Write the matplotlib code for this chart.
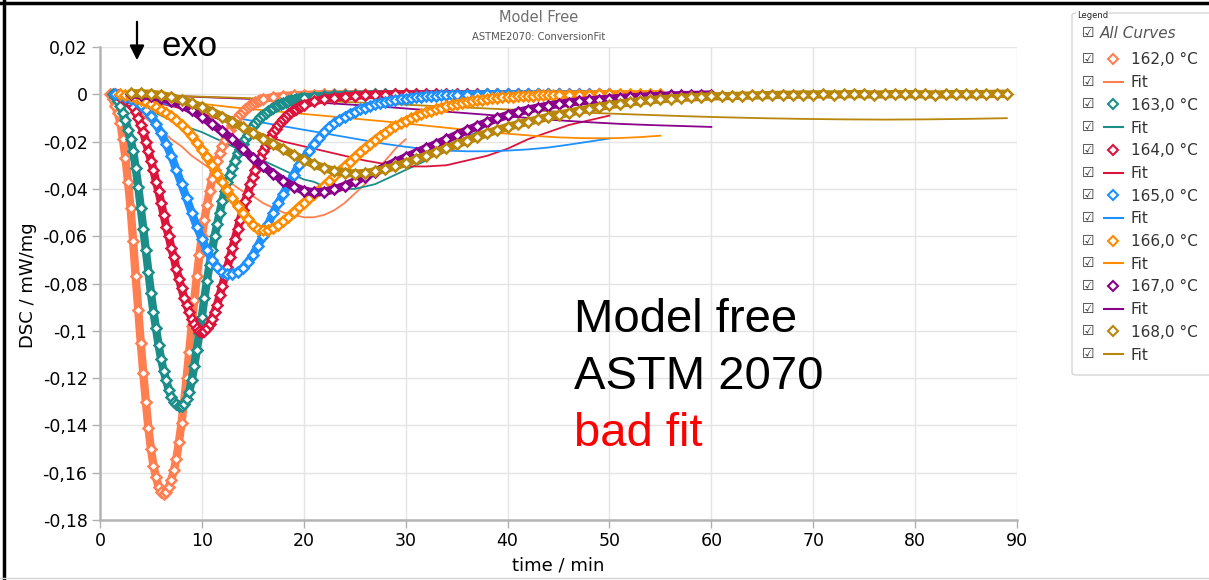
import numpy as np
import matplotlib
matplotlib.use('Agg')
import matplotlib.pyplot as plt
from matplotlib.ticker import FuncFormatter
from matplotlib.lines import Line2D
from matplotlib.patches import FancyBboxPatch

# ---- isothermal DSC runs (time in min, DSC in mW/mg) ----
labels = ['162,0 °C', '163,0 °C', '164,0 °C', '165,0 °C', '166,0 °C', '167,0 °C', '168,0 °C']
colors = ['#FF7F50', '#1B8E8A', '#DC143C', '#1E90FF', '#FF8C00', '#8B008B', '#B8860B']

t162 = np.concatenate([np.arange(1.0, 16.01, 0.25), np.arange(17, 31)])
dsc162 = [0.0, -0.002, -0.005, -0.008, -0.012, -0.019, -0.027, -0.037,
          -0.048, -0.062, -0.077, -0.091, -0.105, -0.118, -0.130, -0.141,
          -0.150, -0.157, -0.162, -0.166, -0.168, -0.169, -0.168, -0.166,
          -0.163, -0.159, -0.154, -0.147, -0.139, -0.130, -0.120, -0.109,
          -0.098, -0.087, -0.077, -0.068, -0.060, -0.053, -0.047, -0.041,
          -0.036, -0.032, -0.028, -0.025, -0.022, -0.0195, -0.017, -0.015,
          -0.013, -0.0113, -0.0098, -0.0085, -0.0074, -0.0064, -0.0055, -0.0047,
          -0.004, -0.0034, -0.0029, -0.0024, -0.002,
          -0.0012, -0.0007, -0.0004, -0.0002, -0.0001, 0.0, 0.0, 0.0,
          0.0, 0.0, 0.0, 0.0, 0.0, 0.0]
tfit162 = np.arange(1, 31)
fit162 = [0.0, -0.002, -0.005, -0.008, -0.012, -0.015, -0.019, -0.022, -0.026, -0.029,
          -0.032, -0.035, -0.038, -0.041, -0.043, -0.046, -0.048, -0.050, -0.051, -0.052,
          -0.052, -0.051, -0.049, -0.046, -0.042, -0.038, -0.033, -0.028, -0.023, -0.019]

t163 = np.concatenate([np.arange(1.25, 20.01, 0.25), np.arange(21, 46)])
dsc163 = [0.0, -0.001, -0.003, -0.005, -0.008, -0.011, -0.015, -0.019,
          -0.024, -0.031, -0.039, -0.048, -0.057, -0.066, -0.075, -0.084,
          -0.092, -0.099, -0.106, -0.112, -0.117, -0.121, -0.125, -0.128,
          -0.130, -0.131, -0.132,
          -0.132, -0.131, -0.129, -0.126, -0.121, -0.115, -0.108, -0.101,
          -0.094, -0.086, -0.079, -0.072, -0.066, -0.060, -0.055, -0.050,
          -0.045, -0.041, -0.037, -0.034, -0.031, -0.028, -0.025, -0.023,
          -0.021, -0.019, -0.017, -0.015, -0.0135, -0.012, -0.011, -0.0098,
          -0.0088, -0.0079, -0.0071, -0.0064, -0.0057, -0.0051, -0.0046, -0.0041,
          -0.0037, -0.0033, -0.0029, -0.0026, -0.0023, -0.0020, -0.0018, -0.0016,
          -0.0014,
          -0.001, -0.0007, -0.0005, -0.0003, -0.0002, -0.0001, 0.0, 0.0,
          0.0, 0.0, 0.0, 0.0, 0.0, 0.0, 0.0, 0.0,
          0.0, 0.0, 0.0, 0.0, 0.0, 0.0, 0.0, 0.0, 0.0]
tfit163 = np.arange(1, 46)
fit163 = [0.0, -0.001, -0.003, -0.005, -0.007, -0.009, -0.011, -0.013, -0.0145, -0.016,
          -0.018, -0.020, -0.022, -0.024, -0.026, -0.028, -0.030, -0.032, -0.034, -0.036,
          -0.037, -0.039, -0.040, -0.040, -0.040, -0.039, -0.038, -0.036, -0.034, -0.032,
          -0.030, -0.028, -0.025, -0.023, -0.020, -0.018, -0.016, -0.013, -0.011, -0.009,
          -0.0075, -0.006, -0.0045, -0.0035, -0.0025]

t164 = np.concatenate([np.arange(1.5, 20.01, 0.25), np.arange(21, 51)])
dsc164 = [0.0, -0.0003, -0.0008, -0.0014, -0.0021, -0.003, -0.004, -0.0055,
          -0.0075, -0.010, -0.013, -0.016, -0.020, -0.024, -0.028, -0.032,
          -0.037, -0.041, -0.046, -0.051, -0.056, -0.060, -0.065, -0.069,
          -0.074, -0.078, -0.082, -0.086, -0.089, -0.092, -0.095, -0.097,
          -0.099, -0.100, -0.1005,
          -0.100, -0.099, -0.097, -0.095, -0.092, -0.089, -0.085, -0.081,
          -0.077, -0.073, -0.069, -0.065, -0.061, -0.057, -0.053, -0.049,
          -0.045, -0.042, -0.038, -0.035, -0.032, -0.029, -0.027, -0.024,
          -0.022, -0.020, -0.018, -0.016, -0.0145, -0.013, -0.0118, -0.0106,
          -0.0095, -0.0085, -0.0076, -0.0068, -0.0061, -0.0055, -0.0049, -0.0044,
          -0.003, -0.002, -0.0014, -0.001, -0.0006, -0.0004, -0.0002, -0.0001,
          0.0, 0.0, 0.0, 0.0, 0.0, 0.0, 0.0, 0.0,
          0.0, 0.0, 0.0, 0.0, 0.0, 0.0, 0.0, 0.0,
          0.0, 0.0, 0.0, 0.0, 0.0, 0.0]
tfit164 = np.arange(2, 51, 2)
fit164 = [-0.0005, -0.002, -0.004, -0.006, -0.008, -0.011, -0.014, -0.017, -0.020, -0.022,
          -0.024, -0.026, -0.028, -0.0295, -0.0305, -0.0305, -0.030, -0.028, -0.026, -0.023,
          -0.019, -0.016, -0.013, -0.011, -0.009]

t165 = np.concatenate([np.arange(1.5, 35.01, 0.5), np.arange(36, 51)])
dsc165 = [0.0, -0.0005, -0.001, -0.002, -0.003, -0.0045, -0.0065, -0.009,
          -0.0125, -0.0165, -0.021, -0.026, -0.032, -0.038, -0.044, -0.050,
          -0.056, -0.061, -0.066, -0.070, -0.073, -0.075, -0.076, -0.0758,
          -0.075, -0.0735, -0.071, -0.068, -0.064, -0.060, -0.055, -0.050,
          -0.046, -0.042, -0.038, -0.034, -0.030, -0.027, -0.024, -0.021,
          -0.0185, -0.016, -0.014, -0.0123, -0.0108, -0.0095, -0.0083, -0.0073,
          -0.0064, -0.0056, -0.0049, -0.0043, -0.0037, -0.0032, -0.0028, -0.0024,
          -0.0021, -0.0018, -0.0015, -0.0013, -0.0011, -0.0009, -0.0008, -0.0006,
          -0.0005, -0.0004, -0.0003, -0.0002,
          -0.0001, -0.0001, 0.0, 0.0, 0.0, 0.0, 0.0, 0.0,
          0.0, 0.0, 0.0, 0.0, 0.0, 0.0, 0.0]
tfit165 = np.arange(2, 51, 2)
fit165 = [-0.0005, -0.002, -0.0037, -0.0054, -0.0071, -0.0088, -0.0105, -0.012, -0.0135, -0.015,
          -0.0165, -0.018, -0.0195, -0.021, -0.0222, -0.0232, -0.0238, -0.0241, -0.0241, -0.0238,
          -0.0233, -0.0225, -0.0213, -0.020, -0.0187]

t166 = np.concatenate([np.arange(2.0, 45.01, 0.5), np.arange(46, 56)])
dsc166 = [0.0, -0.0003, -0.0008, -0.0015, -0.0023, -0.0032, -0.0042, -0.0053,
          -0.0065, -0.0078, -0.0093, -0.011, -0.013, -0.0152, -0.0177, -0.0205,
          -0.0235, -0.0267, -0.030, -0.0335, -0.037, -0.0405, -0.044, -0.0472,
          -0.050, -0.0528, -0.0552, -0.0568, -0.0575, -0.0573, -0.0565, -0.0552,
          -0.0535, -0.0517, -0.0497, -0.0477, -0.0458, -0.044, -0.0422, -0.0404,
          -0.0386, -0.0367, -0.0347, -0.0326, -0.0305, -0.0285, -0.0265, -0.0246,
          -0.0228, -0.021, -0.0193, -0.0177, -0.0162, -0.0148, -0.0135, -0.0123,
          -0.0112, -0.0102, -0.0093, -0.0084, -0.0076, -0.0069, -0.0062, -0.0056,
          -0.005, -0.0045, -0.004, -0.0036, -0.0032, -0.0028, -0.0025, -0.0022,
          -0.0019, -0.0017, -0.0015, -0.0013, -0.0011, -0.001, -0.0009, -0.0008,
          -0.0007, -0.0006, -0.0005, -0.0004, -0.0003, -0.0003, -0.0002,
          -0.0002, -0.0001, -0.0001, 0.0, 0.0, 0.0, 0.0, 0.0, 0.0, 0.0]
tfit166 = np.arange(1, 56, 2)
fit166 = [0.0, -0.0005, -0.0015, -0.0025, -0.0035, -0.0045, -0.0055, -0.0063, -0.0071, -0.0079,
          -0.0087, -0.0095, -0.0103, -0.0111, -0.0119, -0.0128, -0.0137, -0.0146, -0.0155, -0.0163,
          -0.017, -0.0177, -0.0182, -0.0185, -0.0186, -0.0185, -0.0181, -0.0175]

t167 = np.arange(3, 61)
dsc167 = [0.0, -0.0003, -0.0008, -0.0015, -0.0028, -0.0045, -0.0068, -0.0095,
          -0.0125, -0.0157, -0.019, -0.023, -0.027, -0.0305, -0.0335, -0.0365,
          -0.039, -0.0407, -0.0415, -0.0412, -0.0402, -0.0387, -0.0368, -0.0348,
          -0.0327, -0.0306, -0.0286, -0.0266, -0.0247, -0.0228, -0.021, -0.0191,
          -0.0172, -0.0153, -0.0135, -0.0118, -0.0102, -0.0088, -0.0075, -0.0065,
          -0.0056, -0.0048, -0.0041, -0.0035, -0.003, -0.0026, -0.0022, -0.0019,
          -0.0016, -0.0013, -0.0011, -0.0009, -0.0007, -0.0005, -0.0004, -0.0003,
          -0.0002, -0.0001]
tfit167 = np.arange(3, 61, 3)
fit167 = [0.0, -0.0005, -0.001, -0.0015, -0.002, -0.0027, -0.0034, -0.0042, -0.005, -0.006,
          -0.007, -0.008, -0.009, -0.010, -0.011, -0.0118, -0.0125, -0.013, -0.0134, -0.0138]

t168 = np.arange(3, 90)
dsc168 = [0.0004, 0.0004, 0.0002, -0.0003, -0.0012, -0.0024, -0.0038, -0.0054,
          -0.0073, -0.0094, -0.0116, -0.0139, -0.0163, -0.0187, -0.021, -0.0232,
          -0.0256, -0.0277, -0.0296, -0.0312, -0.0324, -0.0332, -0.0335, -0.0333,
          -0.0326, -0.0316, -0.0304, -0.029, -0.0275, -0.026, -0.0244, -0.0228,
          -0.0212, -0.0196, -0.018, -0.0165, -0.0151, -0.0138, -0.0127, -0.0116,
          -0.0106, -0.0096, -0.0087, -0.0078, -0.0069, -0.0061, -0.0053, -0.0046,
          -0.004, -0.0034, -0.0029, -0.0025, -0.0021, -0.0018, -0.0015, -0.0013,
          -0.0011, -0.0009, -0.0008, -0.0007, -0.0006, -0.0005, -0.0004, -0.0003,
          -0.0002, -0.0002, -0.0001, -0.0001, 0.0, -0.0001, 0.0, 0.0001,
          0.0, -0.0001, 0.0, 0.0001, 0.0001, 0.0, 0.0, -0.0001,
          0.0, 0.0001, 0.0, 0.0, 0.0001, 0.0002, 0.0002]
tfit168 = np.arange(1, 90, 4)
fit168 = [0.0, -0.0004, -0.0009, -0.0014, -0.002, -0.0027, -0.0034, -0.0042, -0.005, -0.0058,
          -0.0066, -0.0073, -0.008, -0.0086, -0.0092, -0.0097, -0.0101, -0.0104, -0.0106, -0.0107,
          -0.0106, -0.0104, -0.0101]

runs = [(t162, dsc162, tfit162, fit162), (t163, dsc163, tfit163, fit163),
        (t164, dsc164, tfit164, fit164), (t165, dsc165, tfit165, fit165),
        (t166, dsc166, tfit166, fit166), (t167, dsc167, tfit167, fit167),
        (t168, dsc168, tfit168, fit168)]

y_ticks = [-0.18, -0.16, -0.14, -0.12, -0.1, -0.08, -0.06, -0.04, -0.02, 0.0, 0.02]
x_ticks = [0, 10, 20, 30, 40, 50, 60, 70, 80, 90]

W, H = 1209, 580


def fx(x):
    return x / W


def fy(y):
    return 1 - y / H


fig = plt.figure(figsize=(W / 100, H / 100), dpi=100)
ax = fig.add_axes([fx(100), fy(520), (1017 - 100) / W, (520 - 47) / H])

# fits underneath, measured points on top as a thick band with white dots
for (t, d, tf, f), c in zip(runs, colors):
    ax.plot(tf, f, '-', color=c, lw=1.3, zorder=2)
for (t, d, tf, f), c in zip(runs, colors):
    ax.plot(t, d, '-', color=c, lw=6, marker='D', ms=4.6, mfc='white', mec=c,
            mew=1.8, zorder=3, solid_joinstyle='round', solid_capstyle='round')

ax.set_xlim(0, 90)
ax.set_ylim(-0.18, 0.02)
ax.set_xticks(x_ticks)
ax.set_yticks(y_ticks)


def comma_fmt(v, pos):
    s = f'{round(v, 4):g}'.replace('.', ',')
    return '0' if s == '-0' else s


ax.yaxis.set_major_formatter(FuncFormatter(comma_fmt))
ax.tick_params(axis='both', colors='#b0b0b0', labelcolor='black', labelsize=12.5,
               length=6, width=1, pad=3)
ax.grid(True, color='#e4e4e4', lw=1.0)
ax.set_axisbelow(True)
for side in ['top', 'right']:
    ax.spines[side].set_visible(False)
for side in ['left', 'bottom']:
    ax.spines[side].set_color('#b4b4b4')
    ax.spines[side].set_linewidth(1.8)

fig.text(fx(558), fy(566), 'time / min', ha='center', va='center', fontsize=13)
fig.text(fx(28), fy(285), 'DSC / mW/mg', ha='center', va='center', rotation=90, fontsize=13)

# title block
fig.text(fx(539), fy(18), 'Model Free', ha='center', va='center', fontsize=10.5, color='#6e6e6e')
fig.text(fx(539), fy(37), 'ASTME2070: ConversionFit', ha='center', va='center', fontsize=7.2,
         color='#555555')

# exo arrow
ax.annotate('', xy=(fx(137), fy(63)), xytext=(fx(137), fy(19)), xycoords='figure fraction',
            arrowprops=dict(arrowstyle='-|>', color='black', lw=1.6, mutation_scale=22))
fig.text(fx(162), fy(56), 'exo', fontsize=25, va='baseline', family='Liberation Sans')

fig.text(fx(574), fy(332), 'Model free', fontsize=34, va='baseline', family='Liberation Sans')
fig.text(fx(574), fy(389), 'ASTM 2070', fontsize=34, va='baseline', family='Liberation Sans')
fig.text(fx(574), fy(446), 'bad fit', fontsize=34, va='baseline', family='Liberation Sans',
         color='#FF0000')

# legend panel
box = FancyBboxPatch((fx(1072), fy(375)), fx(1215) - fx(1072), fy(13) - fy(375),
                     boxstyle='round,pad=0,rounding_size=0.004', transform=fig.transFigure,
                     facecolor='white', edgecolor='#d6d6d6', lw=1.0)
fig.add_artist(box)
fig.text(fx(1077), fy(15), 'Legend', fontsize=6, va='center', color='#222222',
         bbox=dict(facecolor='white', edgecolor='none', pad=0.5))
fig.text(fx(1082), fy(33), '☑', fontsize=10, va='center', color='#333333')
fig.text(fx(1100), fy(34), 'All Curves', fontsize=11, va='center', style='italic', color='#555555')

row_y = 59
for lab, c in zip(labels, colors):
    for kind in ['data', 'fit']:
        fig.text(fx(1082), fy(row_y), '☑', fontsize=10, va='center', color='#333333')
        if kind == 'data':
            fig.add_artist(Line2D([fx(1113)], [fy(row_y)], transform=fig.transFigure,
                                  marker='D', ms=5, mfc='white', mec=c, mew=1.5))
            txt = lab
        else:
            fig.add_artist(Line2D([fx(1104), fx(1123)], [fy(row_y), fy(row_y)],
                                  transform=fig.transFigure, color=c, lw=1.5))
            txt = 'Fit'
        fig.text(fx(1131), fy(row_y + 1), txt, fontsize=11, va='center', color='#333333')
        row_y += 22.7

# screenshot frame edges
fig.add_artist(Line2D([0, 1], [fy(3), fy(3)], transform=fig.transFigure, color='black', lw=2.5))
fig.add_artist(Line2D([fx(4), fx(4)], [0, 1], transform=fig.transFigure, color='black', lw=2.5))
fig.add_artist(Line2D([0, 1], [fy(578), fy(578)], transform=fig.transFigure, color='#d4d4d4', lw=1))

fig.savefig('out.png', dpi=100)
